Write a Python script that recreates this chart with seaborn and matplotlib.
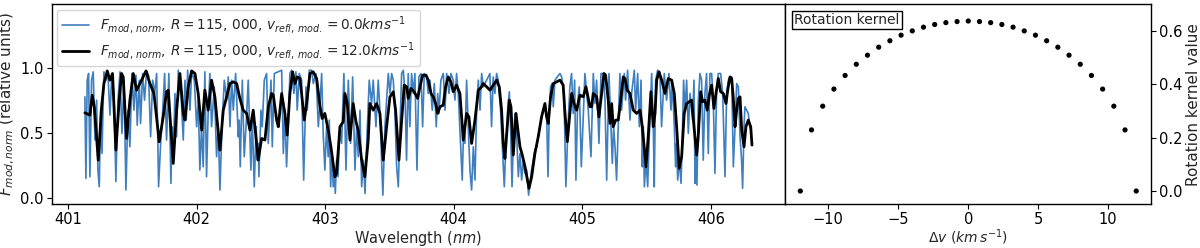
import numpy as np
import pandas as pd
import seaborn as sns
import matplotlib.pyplot as plt

# --- data ---
# high-resolution model spectrum (v = 0 km/s): line tops and bottoms
blue_wl = [
    401.132, 401.140, 401.150, 401.161, 401.171, 401.184, 401.197, 401.210, 401.223, 401.233,
    401.244, 401.254, 401.265, 401.280, 401.296, 401.311, 401.327, 401.342, 401.358, 401.373,
    401.389, 401.405, 401.420, 401.436, 401.451, 401.467, 401.482, 401.498, 401.513, 401.529,
    401.539, 401.555, 401.565, 401.581, 401.596, 401.612, 401.627, 401.643, 401.659, 401.674,
    401.690, 401.705, 401.721, 401.736, 401.752,
    401.767, 401.785, 401.801, 401.811, 401.819, 401.832, 401.845, 401.858, 401.879, 401.897,
    401.910, 401.920, 401.931, 401.949, 401.962, 401.983, 402.001, 402.014, 402.026, 402.039,
    402.052, 402.065, 402.078, 402.091, 402.104, 402.117, 402.138, 402.156, 402.169, 402.182,
    402.200, 402.216, 402.234, 402.247, 402.260, 402.273, 402.286, 402.304, 402.325, 402.332,
    402.340, 402.356, 402.371, 402.389, 402.402, 402.423, 402.433, 402.449, 402.459, 402.464,
    402.472, 402.480, 402.485, 402.501, 402.511, 402.527, 402.545, 402.558, 402.579, 402.589,
    402.605,
    402.662, 402.675, 402.687, 402.700, 402.713, 402.726, 402.739, 402.757, 402.773, 402.783,
    402.799, 402.817, 402.833, 402.851, 402.861, 402.877, 402.895, 402.908, 402.929, 402.947,
    402.960, 402.973, 402.985, 402.998, 403.011, 403.024, 403.032, 403.043, 403.053, 403.063,
    403.071, 403.079, 403.089, 403.100, 403.115, 403.128, 403.146, 403.162, 403.180, 403.198,
    403.214, 403.232, 403.245, 403.258, 403.271, 403.284, 403.297, 403.310, 403.328, 403.343,
    403.361, 403.374, 403.395, 403.413,
    403.426, 403.439, 403.449, 403.465, 403.478, 403.491, 403.504, 403.517, 403.530, 403.543,
    403.556, 403.569, 403.582, 403.595, 403.608, 403.621, 403.633, 403.646, 403.659, 403.672,
    403.685, 403.698, 403.714, 403.729, 403.745, 403.758, 403.771, 403.789, 403.802, 403.815,
    403.833, 403.849, 403.864, 403.875, 403.885, 403.900, 403.919, 403.932, 403.945, 403.963,
    403.978, 403.996, 404.009, 404.022, 404.035, 404.056, 404.066, 404.077, 404.087, 404.100,
    404.113, 404.126, 404.139, 404.152, 404.165, 404.178, 404.191, 404.204, 404.217, 404.230,
    404.281, 404.294, 404.307, 404.320, 404.333, 404.346, 404.364, 404.380, 404.393, 404.406,
    404.419, 404.432, 404.442, 404.453, 404.463, 404.476, 404.489, 404.502, 404.515, 404.528,
    404.541, 404.554, 404.567, 404.582, 404.592, 404.605, 404.618, 404.631, 404.644, 404.657,
    404.670, 404.683, 404.696, 404.709, 404.722, 404.733, 404.743, 404.753, 404.764, 404.774,
    404.787, 404.805, 404.826, 404.839, 404.857, 404.872, 404.888, 404.903, 404.916, 404.929,
    404.940, 404.950, 404.963, 404.976, 404.992, 405.007, 405.020,
    405.046, 405.067, 405.085, 405.098, 405.111, 405.129, 405.145, 405.163, 405.176, 405.189,
    405.207, 405.222, 405.233, 405.243, 405.254, 405.266, 405.279, 405.292, 405.305, 405.326,
    405.336, 405.352, 405.370, 405.383, 405.404, 405.414, 405.430, 405.443, 405.456, 405.466,
    405.474, 405.482, 405.495, 405.508, 405.526, 405.539, 405.552, 405.559, 405.570, 405.585,
    405.603, 405.616, 405.637, 405.655, 405.673, 405.689, 405.699, 405.715, 405.725, 405.733,
    405.741, 405.754, 405.767, 405.777, 405.787, 405.798, 405.811, 405.824, 405.837,
    405.857, 405.868, 405.876, 405.883, 405.891, 405.902, 405.914, 405.927, 405.940, 405.953,
    405.966, 405.979, 405.992, 406.005, 406.018, 406.031, 406.044, 406.057, 406.075, 406.091,
    406.109, 406.122, 406.135, 406.148, 406.161, 406.174, 406.187, 406.200, 406.213, 406.226,
    406.238, 406.246, 406.257, 406.264, 406.277, 406.290, 406.303, 406.311,
]
blue_flux = [
    0.778, 0.153, 0.906, 0.957, 0.166, 0.906, 0.970, 0.447, 0.753, 0.217,
    0.089, 0.676, 0.344, 0.970, 0.906, 0.957, 0.638, 0.957, 0.804, 0.128,
    0.753, 0.970, 0.498, 0.906, 0.064, 0.676, 0.395, 0.957, 0.676, 0.944,
    0.561, 0.906, 0.574, 0.957, 0.753, 0.977, 0.944, 0.472, 0.906, 0.804,
    0.957, 0.089, 0.421, 0.651, 0.957,
    0.447, 0.957, 0.115, 0.549, 0.293, 0.804, 0.472, 0.982, 0.804, 0.447,
    0.906, 0.600, 0.982, 0.676, 0.970, 0.906, 0.549, 0.753, 0.217, 0.549,
    0.242, 0.970, 0.166, 0.676, 0.957, 0.549, 0.855, 0.319, 0.549, 0.064,
    0.600, 0.906, 0.753, 0.931, 0.549, 0.906, 0.676, 0.957, 0.472, 0.600,
    0.242, 0.906, 0.319, 0.625, 0.906, 0.217, 0.625, 0.089, 0.421, 0.549,
    0.293, 0.421, 0.166, 0.676, 0.549, 0.906, 0.957, 0.421, 0.906, 0.395,
    0.957,
    0.982, 0.344, 0.676, 0.242, 0.549, 0.957, 0.982, 0.804, 0.970, 0.676,
    0.957, 0.906, 0.140, 0.855, 0.676, 0.982, 0.982, 0.880, 0.957, 0.549,
    0.727, 0.957, 0.498, 0.217, 0.549, 0.319, 0.600, 0.089, 0.344, 0.089,
    0.217, 0.038, 0.293, 0.166, 0.549, 0.421, 0.957, 0.217, 0.906, 0.421,
    0.931, 0.217, 0.549, 0.319, 0.676, 0.089, 0.293, 0.038, 0.549, 0.906,
    0.727, 0.906, 0.549, 0.906,
    0.676, 0.293, 0.025, 0.549, 0.753, 0.957, 0.804, 0.957, 0.906, 0.651,
    0.242, 0.089, 0.549, 0.957, 0.982, 0.804, 0.293, 0.957, 0.549, 0.957,
    0.804, 0.957, 0.217, 0.931, 0.957, 0.549, 0.957, 0.931, 0.804, 0.906,
    0.676, 0.880, 0.549, 0.804, 0.651, 0.906, 0.957, 0.676, 0.957, 0.804,
    0.957, 0.906, 0.753, 0.957, 0.804, 0.344, 0.140, 0.549, 0.421, 0.906,
    0.549, 0.217, 0.064, 0.395, 0.140, 0.676, 0.906, 0.676, 0.957, 0.855,
    0.957, 0.549, 0.931, 0.804, 0.957, 0.906, 0.676, 0.344, 0.089, 0.421,
    0.676, 0.817, 0.549, 0.089, 0.421, 0.651, 0.498, 0.166, 0.344, 0.140,
    0.293, 0.191, 0.217, 0.025, 0.115, 0.217, 0.293, 0.370, 0.395, 0.472,
    0.549, 0.625, 0.676, 0.727, 0.651, 0.166, 0.676, 0.855, 0.880, 0.702,
    0.906, 0.931, 0.957, 0.931, 0.804, 0.089, 0.549, 0.855, 0.957, 0.651,
    0.906, 0.140, 0.727, 0.855, 0.242, 0.625, 0.957,
    0.676, 0.319, 0.957, 0.727, 0.906, 0.421, 0.957, 0.957, 0.753, 0.140,
    0.957, 0.549, 0.268, 0.549, 0.395, 0.140, 0.549, 0.957, 0.676, 0.957,
    0.753, 0.982, 0.600, 0.804, 0.982, 0.676, 0.957, 0.549, 0.906, 0.242,
    0.549, 0.089, 0.293, 0.089, 0.651, 0.957, 0.523, 0.089, 0.906, 0.982,
    0.957, 0.549, 0.957, 0.753, 0.957, 0.676, 0.906, 0.549, 0.242, 0.421,
    0.140, 0.293, 0.115, 0.447, 0.906, 0.676, 0.906, 0.498, 0.804,
    0.600, 0.906, 0.115, 0.421, 0.102, 0.753, 0.957, 0.906, 0.293, 0.804,
    0.957, 0.344, 0.957, 0.957, 0.753, 0.191, 0.829, 0.957, 0.957, 0.804,
    0.166, 0.804, 0.906, 0.931, 0.931, 0.242, 0.549, 0.880, 0.855, 0.472,
    0.293, 0.077, 0.549, 0.702, 0.676, 0.651, 0.549, 0.523,
]

# broadened spectrum (v = 12 km/s)
black_wl = [
    401.132, 401.171, 401.189, 401.205, 401.236, 401.262, 401.280, 401.306, 401.327, 401.347,
    401.373, 401.399, 401.417, 401.430, 401.456, 401.482, 401.508, 401.534, 401.573, 401.607,
    401.638, 401.669, 401.710, 401.741,
    401.767, 401.780, 401.819, 401.845, 401.871, 401.897, 401.910, 401.936, 401.962, 401.988,
    402.013, 402.040, 402.065, 402.091, 402.117, 402.143, 402.182, 402.208, 402.234, 402.260,
    402.285, 402.312, 402.337, 402.363, 402.390, 402.415, 402.441, 402.480, 402.506, 402.532,
    402.558, 402.584,
    402.597, 402.623, 402.636, 402.662, 402.687, 402.705, 402.726, 402.747, 402.765, 402.783,
    402.804, 402.817, 402.838, 402.856, 402.882, 402.907, 402.934, 402.960, 402.977, 402.998,
    403.024, 403.045, 403.076, 403.089, 403.115, 403.141, 403.154, 403.172, 403.193, 403.218,
    403.240, 403.257, 403.284, 403.309, 403.335, 403.348, 403.374, 403.400,
    403.426, 403.452, 403.478, 403.504, 403.530, 403.548, 403.574, 403.595, 403.615, 403.634,
    403.646, 403.667, 403.693, 403.719, 403.737, 403.758, 403.784, 403.802, 403.823, 403.841,
    403.859, 403.875, 403.893, 403.918, 403.937, 403.957, 403.978, 403.996, 404.022, 404.048,
    404.074, 404.100, 404.118, 404.139, 404.165, 404.191, 404.217,
    404.229, 404.256, 404.282, 404.307, 404.334, 404.354, 404.372, 404.385, 404.398, 404.416,
    404.432, 404.445, 404.463, 404.484, 404.502, 404.515, 404.533, 404.554, 404.585, 404.606,
    404.631, 404.657, 404.683, 404.709, 404.722, 404.735, 404.753, 404.774, 404.800, 404.826,
    404.851, 404.865, 404.883, 404.903, 404.917, 404.935, 404.956, 404.981, 405.007, 405.028,
    405.059, 405.072, 405.085, 405.111, 405.129, 405.150, 405.168, 405.181, 405.201, 405.215,
    405.228, 405.240, 405.259, 405.279, 405.292, 405.318, 405.331, 405.349, 405.370, 405.396,
    405.422, 405.448, 405.466, 405.495, 405.512, 405.533, 405.551, 405.565, 405.578, 405.596,
    405.617, 405.642, 405.668, 405.694, 405.715, 405.733, 405.753, 405.772, 405.792, 405.811,
    405.850, 405.868, 405.889, 405.901, 405.920, 405.935, 405.953, 405.971, 405.987, 406.005,
    406.023, 406.039, 406.057, 406.075, 406.096, 406.117, 406.130, 406.148, 406.161, 406.173,
    406.187, 406.200, 406.212, 406.226, 406.239, 406.257, 406.272, 406.290, 406.309, 406.319,
]
black_flux = [
    0.656, 0.638, 0.791, 0.702, 0.293, 0.702, 0.880, 0.977, 0.906, 0.957,
    0.370, 0.753, 0.957, 0.931, 0.459, 0.753, 0.957, 0.829, 0.906, 0.977,
    0.880, 0.804, 0.434, 0.625,
    0.817, 0.829, 0.268, 0.676, 0.957, 0.651, 0.600, 0.855, 0.977, 0.957,
    0.804, 0.523, 0.829, 0.676, 0.906, 0.778, 0.370, 0.676, 0.778, 0.880,
    0.893, 0.880, 0.766, 0.676, 0.651, 0.523, 0.676, 0.293, 0.459, 0.447,
    0.702, 0.804,
    0.791, 0.600, 0.549, 0.804, 0.651, 0.485, 0.804, 0.970, 0.880, 0.931,
    0.919, 0.804, 0.600, 0.727, 0.957, 0.970, 0.919, 0.702, 0.612, 0.651,
    0.523, 0.395, 0.166, 0.191, 0.549, 0.587, 0.804, 0.727, 0.447, 0.727,
    0.587, 0.523, 0.293, 0.166, 0.447, 0.727, 0.676, 0.727,
    0.651, 0.293, 0.549, 0.778, 0.817, 0.676, 0.293, 0.600, 0.868, 0.855,
    0.766, 0.842, 0.817, 0.766, 0.855, 0.944, 0.944, 0.906, 0.804, 0.778,
    0.727, 0.651, 0.702, 0.714, 0.855, 0.931, 0.893, 0.817, 0.868, 0.804,
    0.447, 0.651, 0.625, 0.421, 0.600, 0.829, 0.855,
    0.880, 0.855, 0.829, 0.868, 0.906, 0.855, 0.676, 0.421, 0.306, 0.549,
    0.753, 0.702, 0.332, 0.651, 0.498, 0.395, 0.332, 0.242, 0.077, 0.166,
    0.344, 0.472, 0.625, 0.727, 0.625, 0.574, 0.778, 0.880, 0.893, 0.906,
    0.868, 0.651, 0.434, 0.651, 0.804, 0.727, 0.676, 0.791, 0.778, 0.855,
    0.702, 0.702, 0.804, 0.778, 0.625, 0.804, 0.957, 0.944, 0.753, 0.574,
    0.727, 0.549, 0.600, 0.600, 0.702, 0.931, 0.919, 0.829, 0.804, 0.676,
    0.651, 0.676, 0.549, 0.242, 0.472, 0.817, 0.549, 0.651, 0.906, 0.970,
    0.906, 0.804, 0.919, 0.906, 0.804, 0.549, 0.230, 0.319, 0.651, 0.727,
    0.753, 0.549, 0.332, 0.472, 0.817, 0.740, 0.753, 0.676, 0.791, 0.868,
    0.689, 0.804, 0.919, 0.817, 0.804, 0.727, 0.829, 0.931, 0.919, 0.778,
    0.549, 0.676, 0.766, 0.778, 0.523, 0.395, 0.549, 0.600, 0.549, 0.408,
]

# rotation kernel samples
kernel_dv = [-12.0, -11.2, -10.4, -9.6, -8.8, -8.0, -7.2, -6.4, -5.6, -4.8, -4.0,
             -3.2, -2.4, -1.6, -0.8, 0.0, 0.8, 1.6, 2.4, 3.2, 4.0, 4.8, 5.6, 6.4,
             7.2, 8.0, 8.8, 9.6, 10.4, 11.2, 12.0]
kernel_val = [0.0, 0.229, 0.318, 0.382, 0.433, 0.475, 0.509, 0.539, 0.563, 0.584, 0.600,
              0.614, 0.624, 0.631, 0.635, 0.637, 0.635, 0.631, 0.624, 0.614, 0.600, 0.584,
              0.563, 0.539, 0.509, 0.475, 0.433, 0.382, 0.318, 0.229, 0.0]

label_v0 = r'$F_{mod,\,norm},\,R=115,\,000,\,v_{refl,\,mod.}=0.0kms^{-1}$'
label_v12 = r'$F_{mod,\,norm},\,R=115,\,000,\,v_{refl,\,mod.}=12.0kms^{-1}$'

df_blue = pd.DataFrame({'wl': blue_wl, 'flux': blue_flux})
df_black = pd.DataFrame({'wl': black_wl, 'flux': black_flux})
df_kern = pd.DataFrame({'dv': kernel_dv, 'val': kernel_val})

sns.set_style('ticks')
plt.rcParams['font.family'] = ['DejaVu Sans']
fs_tick = 10.5
fs_xlab = 10.5
fs_ylab = 11

fig = plt.figure(figsize=(12, 2.48), dpi=100)
ax1 = fig.add_axes([0.0433, 0.177, 0.6108, 0.806])
ax2 = fig.add_axes([0.6541, 0.177, 0.305, 0.806])

sns.lineplot(data=df_blue, x='wl', y='flux', ax=ax1, color='#3f7fbf', linewidth=1.2,
             estimator=None, sort=False, label=label_v0)
sns.lineplot(data=df_black, x='wl', y='flux', ax=ax1, color='black', linewidth=2.0,
             estimator=None, sort=False, label=label_v12)
ax1.set_xlim(400.876, 406.575)
ax1.set_ylim(-0.044, 1.488)
ax1.set_yticks([0.0, 0.5, 1.0])
ax1.set_xticks([401, 402, 403, 404, 405, 406])
ax1.set_xlabel('Wavelength ($nm$)', fontsize=fs_xlab, labelpad=1)
ax1.set_ylabel(r'$F_{mod,norm}$ (relative units)', fontsize=fs_ylab, labelpad=2)
ax1.tick_params(labelsize=fs_tick, pad=2.5)
ax1.legend(loc='upper left', fontsize=9.8, handlelength=2.0, borderaxespad=0.4,
           labelspacing=0.3, borderpad=0.35)

sns.scatterplot(data=df_kern, x='dv', y='val', ax=ax2, color='black', s=14,
                edgecolor='none')
ax2.set_xlim(-13.1, 13.05)
ax2.set_ylim(-0.049, 0.70)
ax2.set_xticks([-10, -5, 0, 5, 10])
ax2.set_yticks([0.0, 0.2, 0.4, 0.6])
ax2.yaxis.tick_right()
ax2.yaxis.set_label_position('right')
ax2.set_xlabel(r'$\Delta v$ ($km\,s^{-1}$)', fontsize=10, labelpad=0)
ax2.set_ylabel('Rotation kernel value', fontsize=fs_ylab, labelpad=2)
ax2.tick_params(labelsize=fs_tick, pad=2.5)
ax2.text(0.025, 0.955, 'Rotation kernel', transform=ax2.transAxes, fontsize=10,
         va='top', ha='left',
         bbox=dict(boxstyle='square,pad=0.15', fc='white', ec='black', lw=1.0))

for ax in (ax1, ax2):
    for sp in ax.spines.values():
        sp.set_visible(True)
        sp.set_color('black')
        sp.set_linewidth(1.0)
    ax.tick_params(color='black', labelcolor='black', length=3.5, width=0.8)

fig.savefig('out.png', dpi=100)
